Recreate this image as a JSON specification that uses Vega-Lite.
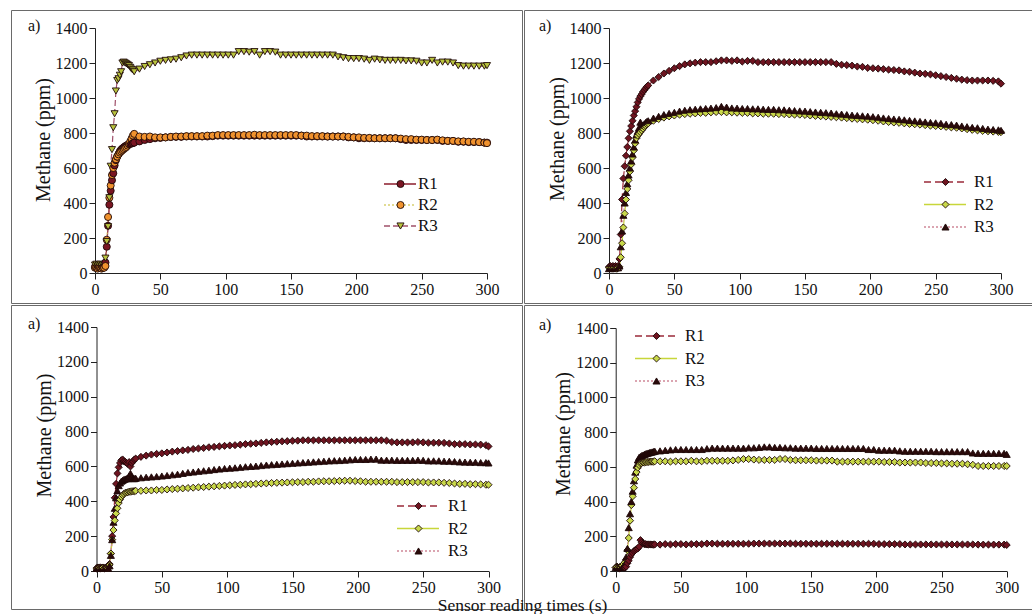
{
"$schema": "https://vega.github.io/schema/vega-lite/v6.json",
"background": "white",
"padding": {"left": 10, "top": 9, "right": 0, "bottom": 0},
"autosize": {"type": "pad"},
"title": {"text": "Sensor reading times (s)", "orient": "bottom", "anchor": "middle", "offset": -13, "fontSize": 17.5, "baseline": "top", "frame": "bounds"},
"datasets": {
"p1": [
{"t":0,"R1":35,"R2":30,"R3":45},{"t":1,"R1":30,"R2":30,"R3":50},{"t":2,"R1":30,"R2":25,"R3":40},{"t":3,"R1":35,"R2":30,"R3":45},{"t":4,"R1":30,"R2":30,"R3":50},{"t":5,"R1":30,"R2":25,"R3":40},{"t":6,"R1":30,"R2":30,"R3":45},{"t":7,"R1":35,"R2":30,"R3":50},{"t":8,"R1":60,"R2":40,"R3":85},{"t":9,"R1":150,"R2":190,"R3":180},{"t":10,"R1":270,"R2":320,"R3":265},{"t":11,"R1":390,"R2":430,"R3":430},{"t":12,"R1":470,"R2":500,"R3":610},{"t":13,"R1":530,"R2":560,"R3":705},{"t":14,"R1":570,"R2":600,"R3":830},{"t":15,"R1":615,"R2":630,"R3":910},{"t":16,"R1":645,"R2":650,"R3":1040},{"t":17,"R1":665,"R2":665,"R3":1100},{"t":18,"R1":680,"R2":678,"R3":1110},{"t":19,"R1":695,"R2":688,"R3":1130},{"t":20,"R1":705,"R2":695,"R3":1150},{"t":21,"R1":712,"R2":702,"R3":1200},{"t":22,"R1":718,"R2":708,"R3":1205},{"t":23,"R1":724,"R2":714,"R3":1200},{"t":24,"R1":728,"R2":720,"R3":1195},{"t":25,"R1":732,"R2":728,"R3":1190},{"t":26,"R1":736,"R2":738,"R3":1185},{"t":27,"R1":738,"R2":752,"R3":1175},{"t":28,"R1":740,"R2":768,"R3":1165},{"t":29,"R1":742,"R2":785,"R3":1160},{"t":30,"R1":745,"R2":795,"R3":1150},
{"t":34,"R1":752,"R2":780,"R3":1165},{"t":38,"R1":760,"R2":778,"R3":1180},{"t":42,"R1":765,"R2":780,"R3":1190},{"t":46,"R1":770,"R2":775,"R3":1200},{"t":50,"R1":772,"R2":775,"R3":1210},{"t":54,"R1":775,"R2":775,"R3":1215},{"t":58,"R1":777,"R2":778,"R3":1218},{"t":62,"R1":778,"R2":780,"R3":1222},{"t":66,"R1":778,"R2":780,"R3":1230},{"t":70,"R1":780,"R2":782,"R3":1240},{"t":74,"R1":780,"R2":782,"R3":1245},{"t":78,"R1":780,"R2":782,"R3":1245},{"t":82,"R1":780,"R2":782,"R3":1245},{"t":86,"R1":780,"R2":785,"R3":1245},{"t":90,"R1":782,"R2":785,"R3":1245},{"t":94,"R1":785,"R2":788,"R3":1245},{"t":98,"R1":785,"R2":788,"R3":1245},{"t":102,"R1":785,"R2":788,"R3":1245},{"t":106,"R1":785,"R2":788,"R3":1245},{"t":110,"R1":785,"R2":788,"R3":1265},{"t":114,"R1":785,"R2":788,"R3":1265},{"t":118,"R1":785,"R2":788,"R3":1262},{"t":122,"R1":785,"R2":790,"R3":1265},{"t":126,"R1":785,"R2":788,"R3":1245},{"t":130,"R1":785,"R2":788,"R3":1265},{"t":134,"R1":785,"R2":788,"R3":1265},{"t":138,"R1":785,"R2":788,"R3":1262},{"t":142,"R1":785,"R2":788,"R3":1245},{"t":146,"R1":785,"R2":788,"R3":1245},{"t":150,"R1":785,"R2":788,"R3":1245},{"t":154,"R1":785,"R2":788,"R3":1245},{"t":158,"R1":785,"R2":785,"R3":1245},{"t":162,"R1":780,"R2":785,"R3":1245},{"t":166,"R1":780,"R2":782,"R3":1245},{"t":170,"R1":780,"R2":782,"R3":1245},{"t":174,"R1":780,"R2":782,"R3":1245},{"t":178,"R1":780,"R2":780,"R3":1245},{"t":182,"R1":780,"R2":780,"R3":1245},{"t":186,"R1":780,"R2":780,"R3":1235},{"t":190,"R1":780,"R2":780,"R3":1230},{"t":194,"R1":775,"R2":778,"R3":1225},{"t":198,"R1":775,"R2":775,"R3":1225},{"t":202,"R1":770,"R2":775,"R3":1225},{"t":206,"R1":770,"R2":772,"R3":1222},{"t":210,"R1":770,"R2":772,"R3":1215},{"t":214,"R1":770,"R2":770,"R3":1222},{"t":218,"R1":770,"R2":770,"R3":1218},{"t":222,"R1":770,"R2":770,"R3":1215},{"t":226,"R1":770,"R2":770,"R3":1215},{"t":230,"R1":770,"R2":770,"R3":1215},{"t":234,"R1":765,"R2":768,"R3":1215},{"t":238,"R1":760,"R2":765,"R3":1212},{"t":242,"R1":760,"R2":765,"R3":1212},{"t":246,"R1":760,"R2":762,"R3":1210},{"t":250,"R1":760,"R2":762,"R3":1200},{"t":254,"R1":760,"R2":760,"R3":1200},{"t":258,"R1":760,"R2":760,"R3":1215},{"t":262,"R1":760,"R2":762,"R3":1200},{"t":266,"R1":755,"R2":758,"R3":1205},{"t":270,"R1":755,"R2":755,"R3":1205},{"t":274,"R1":755,"R2":755,"R3":1200},{"t":278,"R1":750,"R2":752,"R3":1185},{"t":282,"R1":750,"R2":752,"R3":1182},{"t":286,"R1":748,"R2":750,"R3":1182},{"t":290,"R1":748,"R2":750,"R3":1182},{"t":294,"R1":748,"R2":748,"R3":1182},{"t":298,"R1":745,"R2":745,"R3":1182},{"t":300,"R1":745,"R2":742,"R3":1185}
],
"p2": [
{"t":0,"R1":35,"R2":30,"R3":25},{"t":1,"R1":40,"R2":30,"R3":30},{"t":2,"R1":35,"R2":30,"R3":30},{"t":3,"R1":40,"R2":25,"R3":30},{"t":4,"R1":35,"R2":30,"R3":25},{"t":5,"R1":40,"R2":30,"R3":30},{"t":6,"R1":35,"R2":25,"R3":30},{"t":7,"R1":40,"R2":30,"R3":30},{"t":8,"R1":80,"R2":35,"R3":40},{"t":9,"R1":220,"R2":90,"R3":150},{"t":10,"R1":420,"R2":170,"R3":240},{"t":11,"R1":540,"R2":260,"R3":330},{"t":12,"R1":610,"R2":340,"R3":400},{"t":13,"R1":670,"R2":420,"R3":460},{"t":14,"R1":720,"R2":480,"R3":510},{"t":15,"R1":770,"R2":530,"R3":560},{"t":16,"R1":810,"R2":580,"R3":600},{"t":17,"R1":840,"R2":620,"R3":640},{"t":18,"R1":870,"R2":660,"R3":680},{"t":19,"R1":900,"R2":700,"R3":720},{"t":20,"R1":925,"R2":740,"R3":760},{"t":21,"R1":950,"R2":770,"R3":790},{"t":22,"R1":975,"R2":785,"R3":810},{"t":23,"R1":995,"R2":795,"R3":830},{"t":24,"R1":1010,"R2":805,"R3":862},{"t":25,"R1":1022,"R2":815,"R3":835},{"t":26,"R1":1035,"R2":825,"R3":845},{"t":27,"R1":1045,"R2":835,"R3":852},{"t":28,"R1":1055,"R2":842,"R3":860},{"t":29,"R1":1065,"R2":850,"R3":866},{"t":30,"R1":1072,"R2":855,"R3":870},
{"t":34,"R1":1100,"R2":870,"R3":885},{"t":38,"R1":1120,"R2":880,"R3":895},{"t":42,"R1":1140,"R2":888,"R3":905},{"t":46,"R1":1155,"R2":895,"R3":912},{"t":50,"R1":1170,"R2":900,"R3":918},{"t":54,"R1":1182,"R2":905,"R3":925},{"t":58,"R1":1192,"R2":908,"R3":930},{"t":62,"R1":1198,"R2":910,"R3":933},{"t":66,"R1":1202,"R2":912,"R3":936},{"t":70,"R1":1205,"R2":915,"R3":938},{"t":74,"R1":1205,"R2":915,"R3":940},{"t":78,"R1":1205,"R2":918,"R3":942},{"t":82,"R1":1210,"R2":920,"R3":945},{"t":86,"R1":1215,"R2":920,"R3":952},{"t":90,"R1":1215,"R2":918,"R3":948},{"t":94,"R1":1212,"R2":918,"R3":943},{"t":98,"R1":1215,"R2":916,"R3":942},{"t":102,"R1":1208,"R2":915,"R3":940},{"t":106,"R1":1212,"R2":915,"R3":940},{"t":110,"R1":1212,"R2":912,"R3":938},{"t":114,"R1":1205,"R2":912,"R3":938},{"t":118,"R1":1205,"R2":910,"R3":936},{"t":122,"R1":1205,"R2":910,"R3":935},{"t":126,"R1":1205,"R2":910,"R3":935},{"t":130,"R1":1205,"R2":908,"R3":933},{"t":134,"R1":1205,"R2":908,"R3":932},{"t":138,"R1":1205,"R2":906,"R3":930},{"t":142,"R1":1205,"R2":905,"R3":928},{"t":146,"R1":1205,"R2":905,"R3":926},{"t":150,"R1":1205,"R2":903,"R3":925},{"t":154,"R1":1205,"R2":900,"R3":922},{"t":158,"R1":1205,"R2":898,"R3":920},{"t":162,"R1":1205,"R2":896,"R3":918},{"t":166,"R1":1205,"R2":894,"R3":916},{"t":170,"R1":1205,"R2":892,"R3":914},{"t":174,"R1":1195,"R2":890,"R3":910},{"t":178,"R1":1190,"R2":888,"R3":908},{"t":182,"R1":1188,"R2":885,"R3":905},{"t":186,"R1":1185,"R2":882,"R3":902},{"t":190,"R1":1180,"R2":880,"R3":900},{"t":194,"R1":1178,"R2":878,"R3":898},{"t":198,"R1":1172,"R2":876,"R3":896},{"t":202,"R1":1170,"R2":873,"R3":893},{"t":206,"R1":1168,"R2":870,"R3":890},{"t":210,"R1":1165,"R2":866,"R3":886},{"t":214,"R1":1162,"R2":863,"R3":883},{"t":218,"R1":1160,"R2":860,"R3":880},{"t":222,"R1":1158,"R2":858,"R3":878},{"t":226,"R1":1152,"R2":855,"R3":875},{"t":230,"R1":1150,"R2":852,"R3":872},{"t":234,"R1":1145,"R2":850,"R3":869},{"t":238,"R1":1140,"R2":848,"R3":866},{"t":242,"R1":1138,"R2":845,"R3":863},{"t":246,"R1":1135,"R2":842,"R3":860},{"t":250,"R1":1130,"R2":840,"R3":858},{"t":254,"R1":1125,"R2":838,"R3":855},{"t":258,"R1":1120,"R2":835,"R3":850},{"t":262,"R1":1115,"R2":832,"R3":848},{"t":266,"R1":1110,"R2":830,"R3":845},{"t":270,"R1":1105,"R2":826,"R3":840},{"t":274,"R1":1102,"R2":822,"R3":836},{"t":278,"R1":1100,"R2":818,"R3":832},{"t":282,"R1":1100,"R2":815,"R3":830},{"t":286,"R1":1100,"R2":812,"R3":826},{"t":290,"R1":1100,"R2":810,"R3":822},{"t":294,"R1":1098,"R2":808,"R3":820},{"t":298,"R1":1095,"R2":806,"R3":818},{"t":300,"R1":1082,"R2":805,"R3":815}
],
"p3": [
{"t":0,"R1":15,"R2":15,"R3":15},{"t":1,"R1":20,"R2":15,"R3":20},{"t":2,"R1":15,"R2":20,"R3":15},{"t":3,"R1":20,"R2":15,"R3":15},{"t":4,"R1":15,"R2":15,"R3":20},{"t":5,"R1":20,"R2":20,"R3":15},{"t":6,"R1":15,"R2":15,"R3":15},{"t":7,"R1":20,"R2":15,"R3":20},{"t":8,"R1":15,"R2":20,"R3":15},{"t":9,"R1":20,"R2":15,"R3":15},{"t":10,"R1":40,"R2":35,"R3":30},{"t":11,"R1":100,"R2":100,"R3":90},{"t":12,"R1":200,"R2":180,"R3":180},{"t":13,"R1":310,"R2":235,"R3":280},{"t":14,"R1":420,"R2":290,"R3":360},{"t":15,"R1":500,"R2":330,"R3":420},{"t":16,"R1":560,"R2":360,"R3":460},{"t":17,"R1":595,"R2":390,"R3":490},{"t":18,"R1":620,"R2":410,"R3":505},{"t":19,"R1":635,"R2":425,"R3":515},{"t":20,"R1":640,"R2":435,"R3":520},{"t":21,"R1":630,"R2":442,"R3":525},{"t":22,"R1":625,"R2":448,"R3":528},{"t":23,"R1":620,"R2":450,"R3":530},{"t":24,"R1":615,"R2":452,"R3":530},{"t":25,"R1":625,"R2":455,"R3":545},{"t":26,"R1":600,"R2":455,"R3":560},{"t":27,"R1":620,"R2":457,"R3":540},{"t":28,"R1":630,"R2":458,"R3":530},{"t":29,"R1":640,"R2":458,"R3":530},{"t":30,"R1":645,"R2":460,"R3":532},
{"t":34,"R1":655,"R2":460,"R3":535},{"t":38,"R1":662,"R2":462,"R3":538},{"t":42,"R1":668,"R2":462,"R3":540},{"t":46,"R1":672,"R2":465,"R3":542},{"t":50,"R1":675,"R2":465,"R3":545},{"t":54,"R1":680,"R2":468,"R3":548},{"t":58,"R1":685,"R2":470,"R3":552},{"t":62,"R1":688,"R2":472,"R3":555},{"t":66,"R1":692,"R2":474,"R3":560},{"t":70,"R1":695,"R2":476,"R3":565},{"t":74,"R1":700,"R2":478,"R3":568},{"t":78,"R1":703,"R2":480,"R3":572},{"t":82,"R1":706,"R2":482,"R3":575},{"t":86,"R1":710,"R2":484,"R3":578},{"t":90,"R1":712,"R2":486,"R3":582},{"t":94,"R1":715,"R2":488,"R3":585},{"t":98,"R1":718,"R2":490,"R3":588},{"t":102,"R1":720,"R2":492,"R3":590},{"t":106,"R1":722,"R2":494,"R3":592},{"t":110,"R1":725,"R2":495,"R3":595},{"t":114,"R1":728,"R2":497,"R3":598},{"t":118,"R1":730,"R2":498,"R3":600},{"t":122,"R1":732,"R2":500,"R3":602},{"t":126,"R1":735,"R2":502,"R3":605},{"t":130,"R1":738,"R2":503,"R3":608},{"t":134,"R1":740,"R2":505,"R3":610},{"t":138,"R1":742,"R2":506,"R3":612},{"t":142,"R1":744,"R2":507,"R3":614},{"t":146,"R1":745,"R2":508,"R3":616},{"t":150,"R1":747,"R2":509,"R3":618},{"t":154,"R1":748,"R2":510,"R3":620},{"t":158,"R1":750,"R2":510,"R3":622},{"t":162,"R1":750,"R2":512,"R3":624},{"t":166,"R1":750,"R2":512,"R3":626},{"t":170,"R1":750,"R2":514,"R3":628},{"t":174,"R1":750,"R2":515,"R3":630},{"t":178,"R1":750,"R2":515,"R3":632},{"t":182,"R1":750,"R2":516,"R3":633},{"t":186,"R1":750,"R2":517,"R3":634},{"t":190,"R1":750,"R2":518,"R3":636},{"t":194,"R1":750,"R2":518,"R3":638},{"t":198,"R1":750,"R2":516,"R3":640},{"t":202,"R1":750,"R2":515,"R3":640},{"t":206,"R1":750,"R2":512,"R3":640},{"t":210,"R1":750,"R2":512,"R3":642},{"t":214,"R1":750,"R2":512,"R3":642},{"t":218,"R1":750,"R2":512,"R3":636},{"t":222,"R1":748,"R2":512,"R3":636},{"t":226,"R1":740,"R2":512,"R3":636},{"t":230,"R1":738,"R2":510,"R3":635},{"t":234,"R1":738,"R2":510,"R3":635},{"t":238,"R1":738,"R2":510,"R3":635},{"t":242,"R1":738,"R2":510,"R3":635},{"t":246,"R1":740,"R2":510,"R3":636},{"t":250,"R1":738,"R2":510,"R3":635},{"t":254,"R1":736,"R2":508,"R3":632},{"t":258,"R1":736,"R2":508,"R3":632},{"t":262,"R1":736,"R2":508,"R3":632},{"t":266,"R1":735,"R2":506,"R3":630},{"t":270,"R1":732,"R2":505,"R3":630},{"t":274,"R1":728,"R2":502,"R3":628},{"t":278,"R1":728,"R2":500,"R3":626},{"t":282,"R1":728,"R2":500,"R3":625},{"t":286,"R1":726,"R2":498,"R3":624},{"t":290,"R1":726,"R2":498,"R3":624},{"t":294,"R1":725,"R2":497,"R3":622},{"t":298,"R1":722,"R2":495,"R3":622},{"t":300,"R1":715,"R2":495,"R3":620}
],
"p4": [
{"t":0,"R1":20,"R2":20,"R3":20},{"t":1,"R1":25,"R2":25,"R3":25},{"t":2,"R1":20,"R2":20,"R3":20},{"t":3,"R1":15,"R2":20,"R3":25},{"t":4,"R1":20,"R2":20,"R3":20},{"t":5,"R1":25,"R2":30,"R3":20},{"t":6,"R1":20,"R2":40,"R3":25},{"t":7,"R1":20,"R2":50,"R3":40},{"t":8,"R1":25,"R2":65,"R3":80},{"t":9,"R1":45,"R2":120,"R3":130},{"t":10,"R1":60,"R2":190,"R3":250},{"t":11,"R1":80,"R2":290,"R3":330},{"t":12,"R1":95,"R2":380,"R3":400},{"t":13,"R1":105,"R2":430,"R3":460},{"t":14,"R1":115,"R2":480,"R3":520},{"t":15,"R1":120,"R2":530,"R3":570},{"t":16,"R1":125,"R2":570,"R3":610},{"t":17,"R1":130,"R2":595,"R3":640},{"t":18,"R1":140,"R2":610,"R3":655},{"t":19,"R1":178,"R2":620,"R3":660},{"t":20,"R1":165,"R2":622,"R3":665},{"t":21,"R1":158,"R2":625,"R3":668},{"t":22,"R1":155,"R2":625,"R3":672},{"t":23,"R1":155,"R2":627,"R3":675},{"t":24,"R1":153,"R2":628,"R3":678},{"t":25,"R1":152,"R2":628,"R3":680},{"t":26,"R1":153,"R2":630,"R3":682},{"t":27,"R1":153,"R2":630,"R3":684},{"t":28,"R1":152,"R2":630,"R3":686},{"t":29,"R1":152,"R2":630,"R3":688},{"t":30,"R1":153,"R2":632,"R3":690},
{"t":34,"R1":152,"R2":632,"R3":692},{"t":38,"R1":155,"R2":632,"R3":695},{"t":42,"R1":153,"R2":630,"R3":698},{"t":46,"R1":155,"R2":632,"R3":700},{"t":50,"R1":155,"R2":632,"R3":700},{"t":54,"R1":153,"R2":632,"R3":700},{"t":58,"R1":155,"R2":635,"R3":700},{"t":62,"R1":155,"R2":632,"R3":700},{"t":66,"R1":155,"R2":632,"R3":700},{"t":70,"R1":158,"R2":635,"R3":705},{"t":74,"R1":158,"R2":635,"R3":708},{"t":78,"R1":157,"R2":635,"R3":708},{"t":82,"R1":157,"R2":635,"R3":708},{"t":86,"R1":157,"R2":635,"R3":708},{"t":90,"R1":157,"R2":637,"R3":708},{"t":94,"R1":157,"R2":640,"R3":708},{"t":98,"R1":157,"R2":645,"R3":708},{"t":102,"R1":157,"R2":645,"R3":710},{"t":106,"R1":158,"R2":642,"R3":710},{"t":110,"R1":158,"R2":640,"R3":712},{"t":114,"R1":158,"R2":640,"R3":715},{"t":118,"R1":158,"R2":640,"R3":715},{"t":122,"R1":158,"R2":640,"R3":712},{"t":126,"R1":158,"R2":645,"R3":712},{"t":130,"R1":158,"R2":645,"R3":710},{"t":134,"R1":158,"R2":640,"R3":710},{"t":138,"R1":157,"R2":638,"R3":708},{"t":142,"R1":157,"R2":638,"R3":708},{"t":146,"R1":157,"R2":638,"R3":708},{"t":150,"R1":157,"R2":638,"R3":708},{"t":154,"R1":157,"R2":636,"R3":706},{"t":158,"R1":157,"R2":636,"R3":706},{"t":162,"R1":157,"R2":636,"R3":706},{"t":166,"R1":157,"R2":636,"R3":706},{"t":170,"R1":157,"R2":630,"R3":706},{"t":174,"R1":157,"R2":630,"R3":706},{"t":178,"R1":157,"R2":630,"R3":706},{"t":182,"R1":157,"R2":630,"R3":706},{"t":186,"R1":157,"R2":630,"R3":706},{"t":190,"R1":157,"R2":630,"R3":706},{"t":194,"R1":157,"R2":630,"R3":700},{"t":198,"R1":157,"R2":630,"R3":700},{"t":202,"R1":155,"R2":630,"R3":696},{"t":206,"R1":155,"R2":628,"R3":696},{"t":210,"R1":155,"R2":628,"R3":696},{"t":214,"R1":155,"R2":628,"R3":696},{"t":218,"R1":155,"R2":625,"R3":692},{"t":222,"R1":153,"R2":625,"R3":690},{"t":226,"R1":153,"R2":625,"R3":690},{"t":230,"R1":153,"R2":625,"R3":690},{"t":234,"R1":153,"R2":625,"R3":690},{"t":238,"R1":153,"R2":622,"R3":690},{"t":242,"R1":153,"R2":622,"R3":690},{"t":246,"R1":153,"R2":622,"R3":688},{"t":250,"R1":153,"R2":620,"R3":688},{"t":254,"R1":153,"R2":620,"R3":688},{"t":258,"R1":153,"R2":618,"R3":688},{"t":262,"R1":153,"R2":618,"R3":688},{"t":266,"R1":153,"R2":618,"R3":688},{"t":270,"R1":153,"R2":615,"R3":688},{"t":274,"R1":153,"R2":612,"R3":680},{"t":278,"R1":152,"R2":605,"R3":678},{"t":282,"R1":152,"R2":605,"R3":678},{"t":286,"R1":152,"R2":605,"R3":678},{"t":290,"R1":152,"R2":605,"R3":678},{"t":294,"R1":152,"R2":605,"R3":678},{"t":298,"R1":152,"R2":605,"R3":678},{"t":300,"R1":150,"R2":605,"R3":672}
]
},
"vconcat": [
{"hconcat": [
{
"width": 511, "height": 293,
"data": {"name": "p1"},
"transform": [{"fold": ["R1","R2","R3"], "as": ["series","v"]}],
"title": {"text": "a)", "anchor": "start", "frame": "group", "offset": -23.5, "dx": 17},
"encoding": {
"x": {"field": "t", "type": "quantitative", "scale": {"domain": [0,300], "range": [84,476], "nice": false, "zero": false}, "axis": {"offset": -30, "values": [0,50,100,150,200,250,300], "title": null}},
"y": {"field": "v", "type": "quantitative", "scale": {"domain": [0,1400], "range": [263,18], "nice": false}, "axis": {"offset": -84, "values": [0,200,400,600,800,1000,1200,1400], "format": "d", "title": "Methane (ppm)", "titleY": 129.5}}
},
"layer": [
{"mark": {"type": "line", "strokeWidth": 1.2},
"encoding": {
"color": {"field": "series", "type": "nominal", "scale": {"range": ["#8c1c2c","#d8d070","#a0506a"]},
"legend": {"title": null, "orient": "none", "legendX": 372, "legendY": 165.5, "padding": 0, "symbolType": "stroke", "symbolSize": 1024, "symbolStrokeWidth": 1.4, "clipHeight": 17, "labelExpr": "' '", "labelOffset": 2, "rowPadding": 3}},
"strokeDash": {"field": "series", "type": "nominal", "scale": {"range": [[1,0],[2,2],[6,3]]},
"legend": {"title": null, "orient": "none", "legendX": 372, "legendY": 165.5, "padding": 0, "symbolType": "stroke", "symbolSize": 1024, "symbolStrokeWidth": 1.4, "clipHeight": 17, "labelExpr": "' '", "labelOffset": 2, "rowPadding": 3}}
}},
{"mark": {"type": "point", "filled": true, "size": 50, "opacity": 1, "stroke": "#1e0808", "strokeWidth": 0.9},
"encoding": {
"fill": {"field": "series", "type": "nominal", "scale": {"domain": ["R1","R2","R3"], "range": ["#7a1522","#f0922e","#b8c23e"]},
"legend": {"title": null, "orient": "none", "legendX": 381, "legendY": 165.5, "padding": 0, "symbolSize": 50, "symbolStrokeWidth": 0.9, "clipHeight": 17, "labelOffset": 9, "rowPadding": 3}},
"shape": {"field": "series", "type": "nominal", "scale": {"domain": ["R1","R2","R3"], "range": ["circle","circle","triangle-down"]},
"legend": {"title": null, "orient": "none", "legendX": 381, "legendY": 165.5, "padding": 0, "symbolSize": 50, "symbolStrokeWidth": 0.9, "clipHeight": 17, "labelOffset": 9, "rowPadding": 3}}
}}
]
},
{
"width": 510, "height": 293,
"data": {"name": "p2"},
"transform": [{"fold": ["R1","R2","R3"], "as": ["series","v"]}],
"title": {"text": "a)", "anchor": "start", "frame": "group", "offset": -23.5, "dx": 15},
"encoding": {
"x": {"field": "t", "type": "quantitative", "scale": {"domain": [0,300], "range": [85,477], "nice": false, "zero": false}, "axis": {"offset": -30, "values": [0,50,100,150,200,250,300], "title": null}},
"y": {"field": "v", "type": "quantitative", "scale": {"domain": [0,1400], "range": [263,18], "nice": false}, "axis": {"offset": -85, "values": [0,200,400,600,800,1000,1200,1400], "format": "d", "title": "Methane (ppm)", "titleY": 128.5}}
},
"layer": [
{"mark": {"type": "line", "strokeWidth": 1.2},
"encoding": {
"color": {"field": "series", "type": "nominal", "scale": {"range": ["#9a2a3a","#c8d63a","#d08898"]},
"legend": {"title": null, "orient": "none", "legendX": 399, "legendY": 163.5, "padding": 0, "symbolType": "stroke", "symbolSize": 1764, "symbolStrokeWidth": 1.4, "clipHeight": 17, "labelExpr": "' '", "labelOffset": 2, "rowPadding": 4.5}},
"strokeDash": {"field": "series", "type": "nominal", "scale": {"range": [[7,4],[1,0],[2,2]]},
"legend": {"title": null, "orient": "none", "legendX": 399, "legendY": 163.5, "padding": 0, "symbolType": "stroke", "symbolSize": 1764, "symbolStrokeWidth": 1.4, "clipHeight": 17, "labelExpr": "' '", "labelOffset": 2, "rowPadding": 4.5}}
}},
{"mark": {"type": "point", "filled": true, "size": 50, "opacity": 1, "stroke": "#1e0808", "strokeWidth": 0.9},
"encoding": {
"fill": {"field": "series", "type": "nominal", "scale": {"domain": ["R1","R2","R3"], "range": ["#6e1420","#c8d84a","#2a0a0a"]},
"legend": {"title": null, "orient": "none", "legendX": 413, "legendY": 163.5, "padding": 0, "symbolSize": 50, "symbolStrokeWidth": 0.9, "clipHeight": 17, "labelOffset": 20, "rowPadding": 4.5}},
"shape": {"field": "series", "type": "nominal", "scale": {"domain": ["R1","R2","R3"], "range": ["diamond","diamond","triangle-up"]},
"legend": {"title": null, "orient": "none", "legendX": 413, "legendY": 163.5, "padding": 0, "symbolSize": 50, "symbolStrokeWidth": 0.9, "clipHeight": 17, "labelOffset": 20, "rowPadding": 4.5}}
}}
]
}
],
"spacing": 0,
"resolve": {"scale": {"x": "independent", "y": "independent", "color": "independent", "fill": "independent", "shape": "independent", "strokeDash": "independent"}, "legend": {"color": "independent", "fill": "independent", "shape": "independent", "strokeDash": "independent"}}
},
{"hconcat": [
{
"width": 511, "height": 304,
"data": {"name": "p3"},
"transform": [{"fold": ["R1","R2","R3"], "as": ["series","v"]}],
"title": {"text": "a)", "anchor": "start", "frame": "group", "offset": -27, "dx": 17},
"encoding": {
"x": {"field": "t", "type": "quantitative", "scale": {"domain": [0,300], "range": [85.5,477.5], "nice": false, "zero": false}, "axis": {"offset": -38, "values": [0,50,100,150,200,250,300], "title": null}},
"y": {"field": "v", "type": "quantitative", "scale": {"domain": [0,1400], "range": [266,22], "nice": false}, "axis": {"offset": -85.5, "values": [0,200,400,600,800,1000,1200,1400], "format": "d", "title": "Methane (ppm)", "titleY": 130}}
},
"layer": [
{"mark": {"type": "line", "strokeWidth": 1.2},
"encoding": {
"color": {"field": "series", "type": "nominal", "scale": {"range": ["#9a2a3a","#c8d63a","#d08898"]},
"legend": {"title": null, "orient": "none", "legendX": 385, "legendY": 192.5, "padding": 0, "symbolType": "stroke", "symbolSize": 1764, "symbolStrokeWidth": 1.4, "clipHeight": 17, "labelExpr": "' '", "labelOffset": 2, "rowPadding": 4.5}},
"strokeDash": {"field": "series", "type": "nominal", "scale": {"range": [[7,4],[1,0],[2,2]]},
"legend": {"title": null, "orient": "none", "legendX": 385, "legendY": 192.5, "padding": 0, "symbolType": "stroke", "symbolSize": 1764, "symbolStrokeWidth": 1.4, "clipHeight": 17, "labelExpr": "' '", "labelOffset": 2, "rowPadding": 4.5}}
}},
{"mark": {"type": "point", "filled": true, "size": 50, "opacity": 1, "stroke": "#1e0808", "strokeWidth": 0.9},
"encoding": {
"fill": {"field": "series", "type": "nominal", "scale": {"domain": ["R1","R2","R3"], "range": ["#6e1420","#c8d84a","#2a0a0a"]},
"legend": {"title": null, "orient": "none", "legendX": 399, "legendY": 192.5, "padding": 0, "symbolSize": 50, "symbolStrokeWidth": 0.9, "clipHeight": 17, "labelOffset": 21, "rowPadding": 4.5}},
"shape": {"field": "series", "type": "nominal", "scale": {"domain": ["R1","R2","R3"], "range": ["diamond","diamond","triangle-up"]},
"legend": {"title": null, "orient": "none", "legendX": 399, "legendY": 192.5, "padding": 0, "symbolSize": 50, "symbolStrokeWidth": 0.9, "clipHeight": 17, "labelOffset": 21, "rowPadding": 4.5}}
}}
]
},
{
"width": 510, "height": 304,
"data": {"name": "p4"},
"transform": [{"fold": ["R1","R2","R3"], "as": ["series","v"]}],
"title": {"text": "a)", "anchor": "start", "frame": "group", "offset": -28, "dx": 15},
"encoding": {
"x": {"field": "t", "type": "quantitative", "scale": {"domain": [0,300], "range": [91.7,482.7], "nice": false, "zero": false}, "axis": {"offset": -38, "values": [0,50,100,150,200,250,300], "title": null}},
"y": {"field": "v", "type": "quantitative", "scale": {"domain": [0,1400], "range": [266,23], "nice": false}, "axis": {"offset": -91.7, "values": [0,200,400,600,800,1000,1200,1400], "format": "d", "title": "Methane (ppm)", "titleY": 128.5}}
},
"layer": [
{"mark": {"type": "line", "strokeWidth": 1.2},
"encoding": {
"color": {"field": "series", "type": "nominal", "scale": {"range": ["#9a2a3a","#c8d63a","#d08898"]},
"legend": {"title": null, "orient": "none", "legendX": 110, "legendY": 22.5, "padding": 0, "symbolType": "stroke", "symbolSize": 1764, "symbolStrokeWidth": 1.4, "clipHeight": 17, "labelExpr": "' '", "labelOffset": 2, "rowPadding": 4.5}},
"strokeDash": {"field": "series", "type": "nominal", "scale": {"range": [[7,4],[1,0],[2,2]]},
"legend": {"title": null, "orient": "none", "legendX": 110, "legendY": 22.5, "padding": 0, "symbolType": "stroke", "symbolSize": 1764, "symbolStrokeWidth": 1.4, "clipHeight": 17, "labelExpr": "' '", "labelOffset": 2, "rowPadding": 4.5}}
}},
{"mark": {"type": "point", "filled": true, "size": 50, "opacity": 1, "stroke": "#1e0808", "strokeWidth": 0.9},
"encoding": {
"fill": {"field": "series", "type": "nominal", "scale": {"domain": ["R1","R2","R3"], "range": ["#6e1420","#c8d84a","#2a0a0a"]},
"legend": {"title": null, "orient": "none", "legendX": 124, "legendY": 22.5, "padding": 0, "symbolSize": 50, "symbolStrokeWidth": 0.9, "clipHeight": 17, "labelOffset": 20, "rowPadding": 4.5}},
"shape": {"field": "series", "type": "nominal", "scale": {"domain": ["R1","R2","R3"], "range": ["diamond","diamond","triangle-up"]},
"legend": {"title": null, "orient": "none", "legendX": 124, "legendY": 22.5, "padding": 0, "symbolSize": 50, "symbolStrokeWidth": 0.9, "clipHeight": 17, "labelOffset": 20, "rowPadding": 4.5}}
}}
]
}
],
"spacing": 0,
"resolve": {"scale": {"x": "independent", "y": "independent", "color": "independent", "fill": "independent", "shape": "independent", "strokeDash": "independent"}, "legend": {"color": "independent", "fill": "independent", "shape": "independent", "strokeDash": "independent"}}
}
],
"spacing": 0,
"resolve": {"scale": {"x": "independent", "y": "independent", "color": "independent", "fill": "independent", "shape": "independent", "strokeDash": "independent"}, "legend": {"color": "independent", "fill": "independent", "shape": "independent", "strokeDash": "independent"}},
"config": {
"view": {"stroke": "#6a6a6a", "strokeWidth": 1},
"font": "Liberation Serif",
"axis": {"grid": false, "labelFont": "Liberation Serif", "labelFontSize": 16, "labelColor": "#111", "labelFlush": false, "labelOverlap": false, "labelPadding": 2, "domainColor": "#222", "tickColor": "#222", "tickSize": 6, "titleFont": "Liberation Serif", "titleFontSize": 20, "titleFontWeight": "normal", "titleColor": "#111", "titlePadding": 2},
"legend": {"labelFont": "Liberation Serif", "labelFontSize": 17, "labelColor": "#111"},
"title": {"font": "Liberation Serif", "fontSize": 16, "fontWeight": "normal", "color": "#111", "baseline": "alphabetic"},
"concat": {"spacing": 0}
}
}
